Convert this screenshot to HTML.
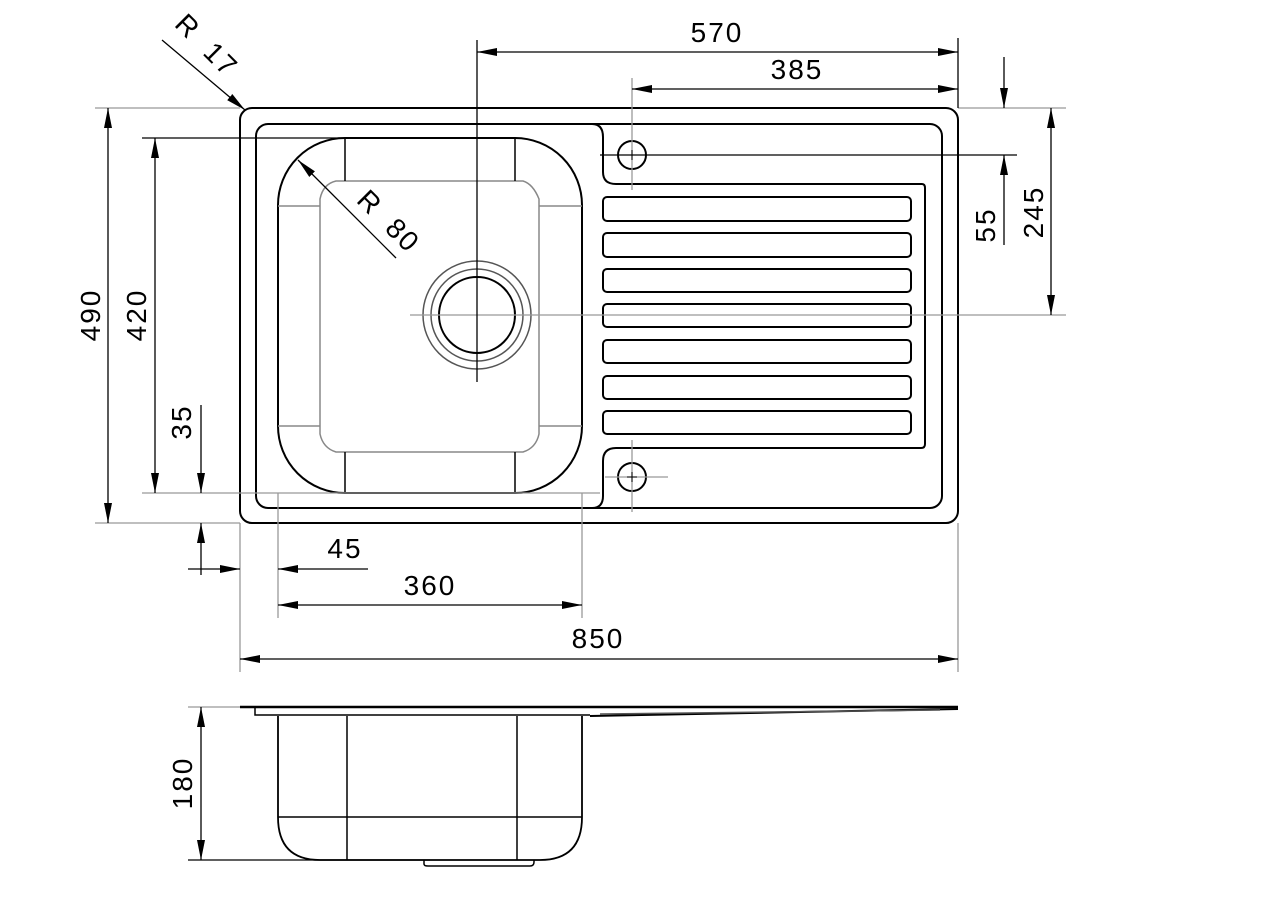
<!DOCTYPE html>
<html><head><meta charset="utf-8"><style>
html,body{margin:0;padding:0;background:#fff;}
svg{display:block;}
text{font-family:"Liberation Sans",sans-serif;font-size:28px;fill:#000;letter-spacing:2px;}
</style></head><body>
<svg width="1287" height="916" viewBox="0 0 1287 916" xmlns="http://www.w3.org/2000/svg">
<defs>
<marker id="a" viewBox="0 0 20 8" refX="20" refY="4" markerWidth="20" markerHeight="8" markerUnits="userSpaceOnUse" orient="auto-start-reverse">
<path d="M0,0 L20,4 L0,8 z" fill="#000"/></marker>
</defs>
<g fill="none" stroke="#000">
<rect x="240" y="108" width="718" height="415" rx="12" stroke-width="2"/>
<rect x="256" y="124" width="686" height="384" rx="12" stroke-width="2"/>
<path d="M592,124 Q603,124 603,137 L603,172 Q603,184 616,184 L922,184 Q925,184 925,188 L925,444 Q925,448 921,448 L616,448 Q603,448 603,461 L603,496 Q603,508 592,508" stroke-width="2"/>
<g stroke-width="2">
<rect x="603" y="197" width="308" height="24" rx="4"/>
<rect x="603" y="233" width="308" height="24" rx="4"/>
<rect x="603" y="269" width="308" height="23" rx="4"/>
<rect x="603" y="304" width="308" height="23" rx="4"/>
<rect x="603" y="340" width="308" height="23" rx="4"/>
<rect x="603" y="376" width="308" height="23" rx="4"/>
<rect x="603" y="411" width="308" height="23" rx="4"/>
</g>
<circle cx="632" cy="155" r="14" stroke-width="2"/>
<circle cx="632" cy="477" r="14" stroke-width="2"/>
<rect x="278" y="138" width="304" height="355" rx="67" stroke-width="2"/>
<path d="M336,181 L523,181 Q533,184 539,199 L539,434 Q536,448 523,452 L336,452 Q323,448 320,434 L320,199 Q323,184 336,181 Z" stroke="#888" stroke-width="1.5"/>
<g stroke-width="1.5">
<line x1="345" y1="138" x2="345" y2="181"/><line x1="515" y1="138" x2="515" y2="181"/>
<line x1="345" y1="452" x2="345" y2="493"/><line x1="515" y1="452" x2="515" y2="493"/>
</g>
<g stroke="#888" stroke-width="1.5">
<line x1="278" y1="206" x2="320" y2="206"/><line x1="539" y1="206" x2="582" y2="206"/>
<line x1="278" y1="426" x2="320" y2="426"/><line x1="539" y1="426" x2="582" y2="426"/>
</g>
<circle cx="477" cy="315" r="54" stroke="#555" stroke-width="1.5"/>
<circle cx="477" cy="315" r="46" stroke="#555" stroke-width="1.5"/>
<circle cx="477" cy="315" r="38" stroke-width="2"/>

<g stroke="#999" stroke-width="1.3">
<line x1="95" y1="108" x2="240" y2="108"/>
<line x1="95" y1="523" x2="240" y2="523"/>
<line x1="958" y1="108" x2="1066" y2="108"/>
<line x1="410" y1="315" x2="1066" y2="315"/>
<line x1="142" y1="493" x2="600" y2="493"/>
<line x1="632" y1="78" x2="632" y2="190"/>
<line x1="632" y1="440" x2="632" y2="512"/>
<line x1="605" y1="477" x2="668" y2="477"/>
<line x1="240" y1="523" x2="240" y2="672"/>
<line x1="958" y1="523" x2="958" y2="672"/>
<line x1="278" y1="493" x2="278" y2="618"/>
<line x1="582" y1="493" x2="582" y2="618"/>
<line x1="188" y1="707" x2="240" y2="707"/>
</g>
<g stroke-width="1.3">
<line x1="477" y1="40" x2="477" y2="382"/>
<line x1="958" y1="38" x2="958" y2="108"/>
<line x1="142" y1="138" x2="345" y2="138"/>
<line x1="600" y1="155" x2="1017" y2="155"/>
<line x1="188" y1="860" x2="430" y2="860"/>
</g>
<g stroke-width="1.3" marker-end="url(#a)">
<line x1="958" y1="52" x2="477" y2="52" marker-start="url(#a)"/>
<line x1="958" y1="89" x2="632" y2="89" marker-start="url(#a)"/>
<line x1="108" y1="315" x2="108" y2="108"/>
<line x1="108" y1="315" x2="108" y2="523"/>
<line x1="155" y1="315" x2="155" y2="138"/>
<line x1="155" y1="315" x2="155" y2="493"/>
<line x1="201" y1="405" x2="201" y2="493"/>
<line x1="201" y1="575" x2="201" y2="523"/>
<line x1="188" y1="569" x2="240" y2="569"/>
<line x1="368" y1="569" x2="278" y2="569"/>
<line x1="430" y1="605" x2="278" y2="605"/>
<line x1="430" y1="605" x2="582" y2="605"/>
<line x1="600" y1="659" x2="240" y2="659"/>
<line x1="600" y1="659" x2="958" y2="659"/>
<line x1="1004" y1="57" x2="1004" y2="108"/>
<line x1="1004" y1="245" x2="1004" y2="155"/>
<line x1="1051" y1="210" x2="1051" y2="108"/>
<line x1="1051" y1="210" x2="1051" y2="315"/>
<line x1="201" y1="780" x2="201" y2="707"/>
<line x1="201" y1="780" x2="201" y2="860"/>
<line x1="162" y1="40" x2="245" y2="110"/>
<line x1="396" y1="258" x2="298" y2="160"/>
</g>

<line x1="240" y1="707" x2="958" y2="707" stroke-width="2.5"/>
<path d="M255,707 L255,715 L590,715" stroke-width="1.5"/>
<path d="M590,716 L958,709" stroke-width="2"/>
<path d="M600,714 L940,710" stroke="#555" stroke-width="1.5"/>
<path d="M278,716 L278,817 Q278,860 320,860 L540,860 Q582,860 582,817 L582,716" stroke-width="1.8"/>
<line x1="278" y1="817" x2="582" y2="817" stroke-width="1.5"/>
<line x1="347" y1="716" x2="347" y2="860" stroke-width="1.5"/>
<line x1="517" y1="716" x2="517" y2="860" stroke-width="1.5"/>
<path d="M424,860 L424,864 Q424,866 428,866 L530,866 Q534,866 534,862 L534,860" stroke-width="1.5"/>
</g>
<g stroke="#000" stroke-width="1">
<line x1="627" y1="155" x2="637" y2="155"/><line x1="632" y1="150" x2="632" y2="160"/>
<line x1="627" y1="477" x2="637" y2="477"/><line x1="632" y1="472" x2="632" y2="482"/>
</g>

<text x="717" y="42" text-anchor="middle">570</text>
<text x="797" y="79" text-anchor="middle">385</text>
<text x="345" y="558" text-anchor="middle">45</text>
<text x="430" y="595" text-anchor="middle">360</text>
<text x="598" y="648" text-anchor="middle">850</text>
<text transform="translate(100,315) rotate(-90)" text-anchor="middle">490</text>
<text transform="translate(146,315) rotate(-90)" text-anchor="middle">420</text>
<text transform="translate(191,422) rotate(-90)" text-anchor="middle">35</text>
<text transform="translate(192,783) rotate(-90)" text-anchor="middle">180</text>
<text transform="translate(995,225) rotate(-90)" text-anchor="middle">55</text>
<text transform="translate(1043,212) rotate(-90)" text-anchor="middle">245</text>
<text transform="translate(200,52) rotate(45)" text-anchor="middle" style="word-spacing:8px">R 17</text>
<text transform="translate(382,228) rotate(45)" text-anchor="middle" style="word-spacing:8px">R 80</text>
</svg>
</body></html>
